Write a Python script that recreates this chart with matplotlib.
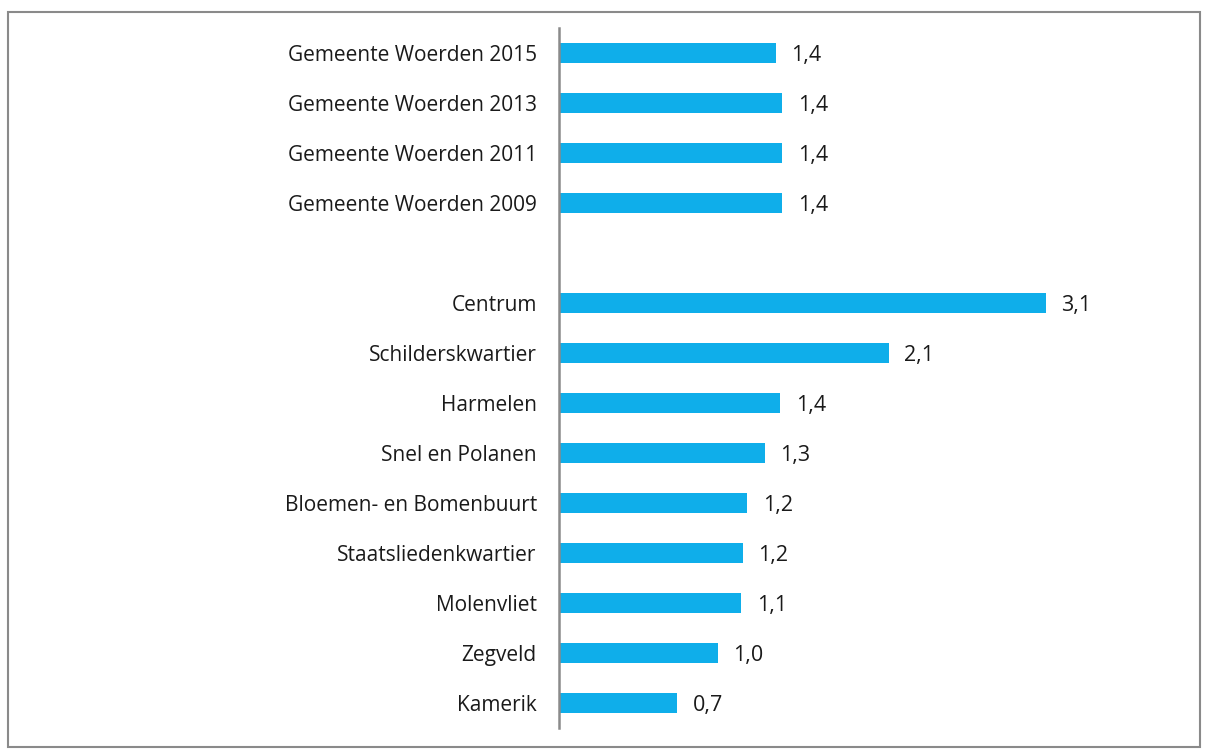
import matplotlib
matplotlib.use("Agg")
import matplotlib.pyplot as plt
from matplotlib.patches import Rectangle

categories = ["Gemeente Woerden 2015", "Gemeente Woerden 2013", "Gemeente Woerden 2011",
              "Gemeente Woerden 2009", "", "Centrum", "Schilderskwartier", "Harmelen",
              "Snel en Polanen", "Bloemen- en Bomenbuurt", "Staatsliedenkwartier",
              "Molenvliet", "Zegveld", "Kamerik"]
values = [1.38, 1.42, 1.42, 1.42, None, 3.10, 2.10, 1.41, 1.31, 1.20, 1.17, 1.16, 1.01, 0.75]
labels = ["1,4", "1,4", "1,4", "1,4", "", "3,1", "2,1", "1,4", "1,3", "1,2", "1,2", "1,1", "1,0", "0,7"]

plt.rcParams['font.family'] = ['Open Sans', 'DejaVu Sans']

W, H = 1206, 749
fig = plt.figure(figsize=(W / 100, H / 100), dpi=100)

# outer border
fig.patches.append(Rectangle((8 / W, 1 - 747 / H), (1200 - 8) / W, (747 - 12) / H,
                             transform=fig.transFigure, fill=False,
                             edgecolor="#8a8a8a", linewidth=1.5))

ax_left, ax_right = 559, 1187
ax_top, ax_bottom = 28, 728
ax = fig.add_axes([ax_left / W, 1 - ax_bottom / H, (ax_right - ax_left) / W, (ax_bottom - ax_top) / H])

pos = list(range(len(categories)))
for i, (v, lab) in enumerate(zip(values, labels)):
    if v is None:
        continue
    ax.barh(i, v, height=0.4, color="#0FAEEA", edgecolor="none")
    ax.text(v + 0.1, i + 0.05, lab, va="center", ha="left", fontsize=15.5, color="#1a1a1a")

ax.set_ylim(len(categories) - 0.5, -0.5)
ax.set_xlim(0, 4)
ax.set_yticks(pos)
ax.set_yticklabels(categories, fontsize=15, color="#1a1a1a")
ax.tick_params(axis="y", length=0, pad=16)
ax.set_xticks([])
for s in ["top", "right", "bottom"]:
    ax.spines[s].set_visible(False)
ax.spines["left"].set_color("#8a8a8a")
ax.spines["left"].set_linewidth(1.8)
ax.patch.set_alpha(0)

fig.savefig("out.png", dpi=100)
